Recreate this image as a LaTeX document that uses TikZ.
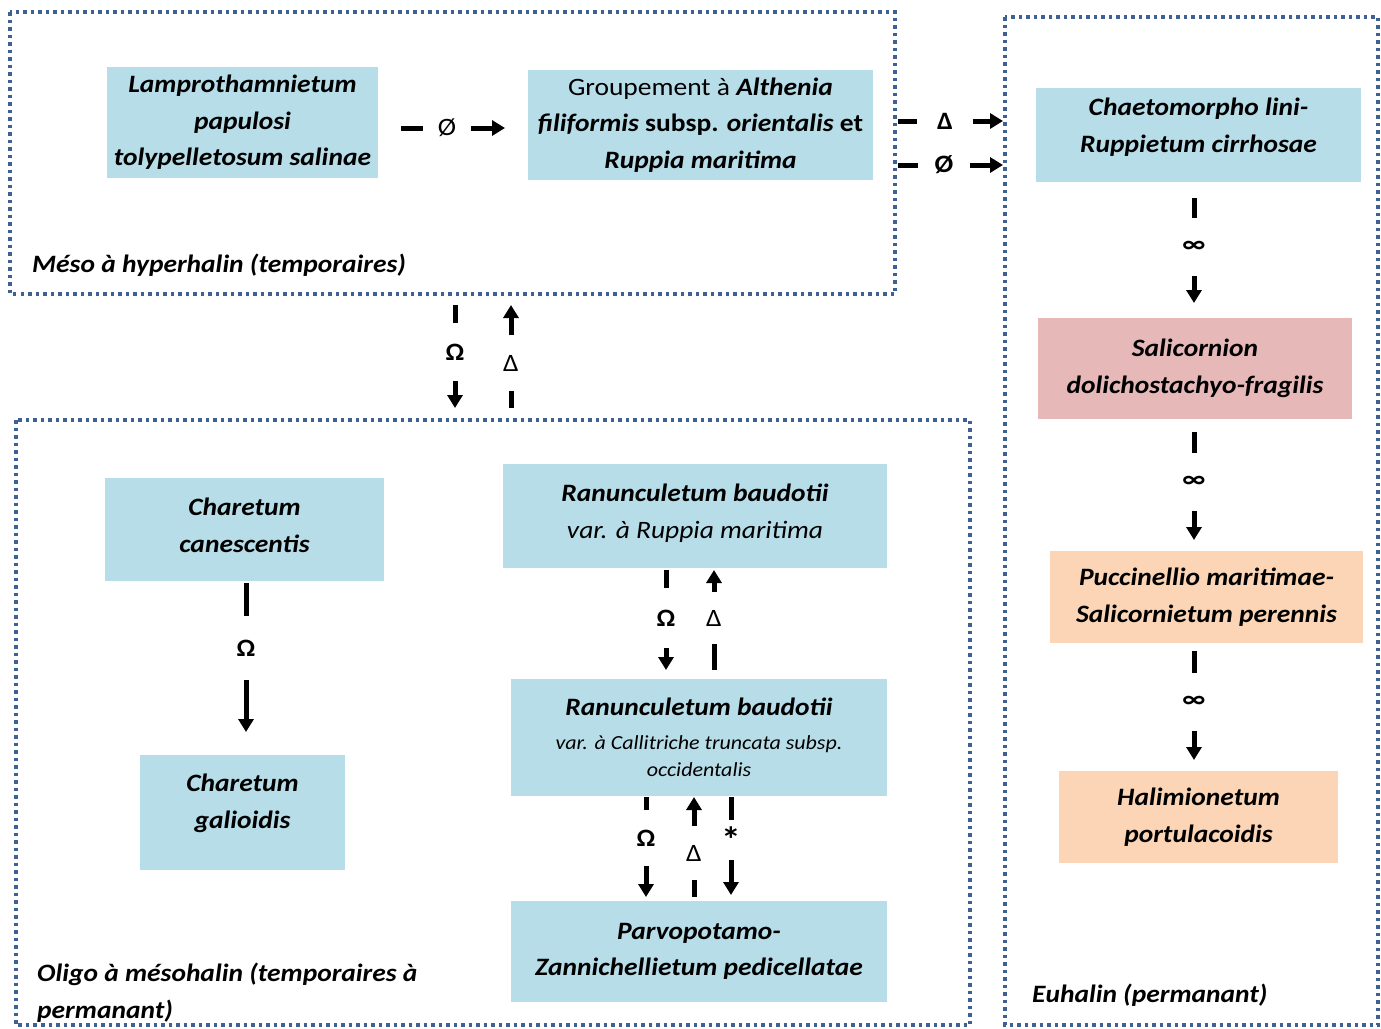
\documentclass[tikz,border=0pt]{standalone}
\usepackage{fontspec}
\setmainfont{Carlito}[FakeStretch=1.1]
\usetikzlibrary{arrows.meta}
\definecolor{boxblue}{RGB}{183,221,232}
\definecolor{boxpink}{RGB}{230,185,184}
\definecolor{boxpeach}{RGB}{251,213,181}
\definecolor{framecol}{RGB}{62,96,148}
\newcommand{\bi}{\bfseries\itshape}
\newcommand{\lift}[2]{\raisebox{#1}[\height][\depth]{#2}}
\begin{document}
\begin{tikzpicture}[x=1pt,y=-1pt]
      \tikzset{zone/.style={draw=framecol,line width=3.5pt,dash pattern=on 3.5pt off 4pt},
        assoc/.style={fill=#1,inner sep=0pt,align=center,font=\fontsize{25}{36.5}\selectfont},
        assoc/.default=boxblue,
        zonelabel/.style={anchor=west,align=left,inner sep=0pt,font=\fontsize{25}{37}\selectfont\bi},
        lbl/.style={inner sep=0pt,minimum width=#1,minimum height=#1,font=\fontsize{25}{30}\selectfont},
        seg/.style={line width=5pt},
        arr/.style={line width=5pt,-{Triangle[length=13pt,width=15pt]}}}
      \useasboundingbox (0,0) rectangle (1381,1028);
% zones
\draw[zone] (10,12) rectangle (895,294);
\draw[zone] (1005,17) rectangle (1378,1025);
\draw[zone] (16,420) rectangle (970,1025);
\node[zonelabel] (meso) at (32,265) {Méso à hyperhalin (temporaires)};
\node[zonelabel] (oligo) at (37,992.5) {Oligo à mésohalin (temporaires à\\permanant)};
\node[zonelabel] (euhalin) at (1032,995) {Euhalin (permanant)};
% associations
\node[assoc,minimum width=271pt,minimum height=111pt] (lamp) at (242.5,122.5)
  {\bi Lamprothamnietum\\\bi papulosi\\\bi tolypelletosum salinae};
\node[assoc,minimum width=345pt,minimum height=110pt] (alth) at (700.5,125)
  {Groupement à {\bi Althenia}\\{\bi filiformis} {\bfseries subsp.} {\bi orientalis} {\bfseries et}\\\bi Ruppia maritima};
\node[assoc,minimum width=325pt,minimum height=94pt] (chaet) at (1198.5,135)
  {\lift{8pt}{\bi Chaetomorpho lini-}\\\lift{8pt}{\bi Ruppietum cirrhosae}};
\node[assoc=boxpink,minimum width=314pt,minimum height=101pt] (salic) at (1195,368.5)
  {\bi Salicornion\\\bi dolichostachyo-fragilis};
\node[assoc=boxpeach,minimum width=313pt,minimum height=92pt] (pucc) at (1206.5,597)
  {\bi Puccinellio maritimae-\\\bi Salicornietum perennis};
\node[assoc=boxpeach,minimum width=279pt,minimum height=92pt] (halim) at (1198.5,817)
  {\bi Halimionetum\\\bi portulacoidis};
\node[assoc,minimum width=279pt,minimum height=103pt] (canesc) at (244.5,529.5)
  {\lift{4pt}{\bi Charetum}\\\lift{4pt}{\bi canescentis}};
\node[assoc,minimum width=205pt,minimum height=115pt] (galio) at (242.5,812.5)
  {\lift{9pt}{\bi Charetum}\\\lift{9pt}{\bi galioidis}};
\node[assoc,minimum width=384pt,minimum height=104pt] (ranrup) at (695,516)
  {\lift{3pt}{\bi Ranunculetum baudotii}\\\lift{3pt}{\itshape var. à Ruppia maritima}};
\node[assoc,minimum width=376pt,minimum height=117pt] (rancal) at (699,737.5)
  {{\bi Ranunculetum baudotii}\\[-3pt]{\fontsize{20}{28}\selectfont\itshape var. à Callitriche truncata subsp.}\\[-9pt]{\fontsize{20}{28}\selectfont\itshape occidentalis}};
\node[assoc,minimum width=376pt,minimum height=101pt] (parvo) at (699,951.5)
  {\bi Parvopotamo-\\\bi Zannichellietum pedicellatae};
% horizontal transitions
\coordinate (h1s) at (401,128); \coordinate (h1e) at (505,128);
\node[lbl=48pt] (h1) at (447,128) {Ø};
\coordinate (h2s) at (898,121); \coordinate (h2e) at (1003,121);
\node[lbl=55pt] (h2) at (945,121) {\bfseries Δ};
\coordinate (h3s) at (898,165); \coordinate (h3e) at (1003,165);
\node[lbl=52pt] (h3) at (944,165) {\bfseries Ø};
\foreach \h in {h1,h2,h3}{
  \draw[seg] (\h s) -- (\h);
  \draw[arr] (\h) -- (\h e);}
% downward transitions
\foreach \n/\x/\ya/\yl/\yb/\s/\t in {fw/455/305/352/408/58/{\bfseries Ω},
    cc/246/583/648/732/64/{\bfseries Ω}, r1/666/570/618/670/60/{\bfseries Ω},
    r2/646/797/838/897/56/{\bfseries Ω}, r3/731/797/840/895/40/{\fontsize{36}{36}\selectfont\bfseries *},
    s1/1194/198/247/303/58/{\bfseries ∞}, s2/1194/432/482/540/58/{\bfseries ∞},
    s3/1194/651/702/760/58/{\bfseries ∞}}{
  \coordinate (\n s) at (\x,\ya);
  \coordinate (\n e) at (\x,\yb);
  \node[lbl=\s pt] (\n) at (\x,\yl) {\t};
  \draw[seg] (\n s) -- (\n);
  \draw[arr] (\n) -- (\n e);}
% upward transitions
\foreach \n/\x/\ya/\yl/\yb/\s in {fu/511/305/363/408/55,
    u1/714/570/618/670/52, u2/694/797/853/897/54}{
  \coordinate (\n s) at (\x,\yb);
  \coordinate (\n e) at (\x,\ya);
  \node[lbl=\s pt] (\n) at (\x,\yl) {Δ};
  \draw[seg] (\n s) -- (\n);
  \draw[arr] (\n) -- (\n e);}
    \end{tikzpicture}
\end{document}
